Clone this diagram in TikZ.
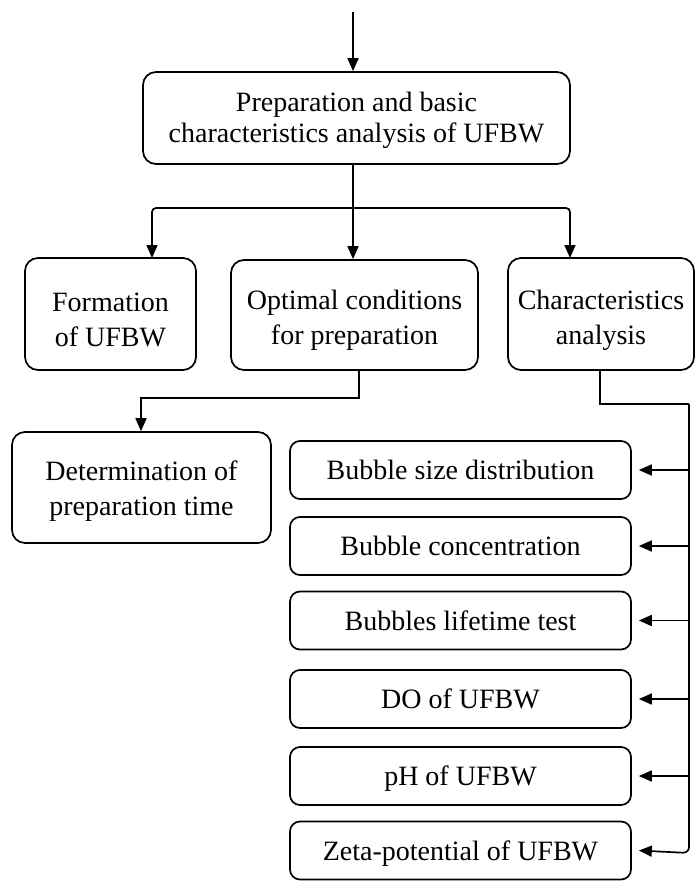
\documentclass[tikz,border=0pt]{standalone}
\usepackage{fontspec}
\setmainfont{Liberation Serif}
\usetikzlibrary{arrows.meta}
\newcommand\myup[1]{\rule{0pt}{#1}}
\begin{document}
\begin{tikzpicture}[x=1pt,y=-1pt,
  box/.style={draw,line width=1.7pt,rounded corners=13pt,inner sep=0pt,align=center,
     font=\fontsize{28}{31}\selectfont},
  tall/.style={box,font=\fontsize{28}{35}\selectfont},
  small/.style={box,minimum width=341pt,minimum height=58pt,rounded corners=10pt,
     text height=19pt,text depth=0pt},
  conn/.style={line width=1.7pt,-{Triangle[length=13pt,width=11pt]}},
  side/.style={conn,shorten >=7pt}]
\useasboundingbox (0,0) rectangle (696,884);
\node[box,minimum width=427pt,minimum height=92pt] (top) at (356.5,118) {\myup{25pt}Preparation and basic\\characteristics analysis of UFBW};
\node[tall,minimum width=171pt,minimum height=112pt] (form) at (110.5,314) {\myup{30pt}Formation\\of UFBW};
\node[tall,minimum width=247pt,minimum height=110pt] (opt) at (354.5,315) {\myup{30pt}Optimal conditions\\for preparation};
\node[tall,minimum width=186pt,minimum height=112pt] (char) at (601,314) {\myup{32pt}Characteristics\\analysis};
\node[tall,minimum width=259pt,minimum height=111pt] (det) at (141.5,487.5) {\myup{26pt}Determination of\\preparation time};
\node[small] (s1) at (460.5,470) {Bubble size distribution};
\node[small] (s2) at (460.5,546) {Bubble concentration};
\node[small] (s3) at (460.5,620.5) {Bubbles lifetime test};
\node[small] (s4) at (460.5,699) {DO of UFBW};
\node[small] (s5) at (460.5,776) {pH of UFBW};
\node[small] (s6) at (460.5,850.5) {Zeta-potential of UFBW};
\coordinate (in) at (353,12);
\coordinate (bus) at (353,208);
\coordinate (vtop) at (689,404);
\draw[conn] (in) -- (in |- top.north);
\draw[line width=1.7pt] (top.south -| bus) -- (bus);
\draw[conn,rounded corners=4pt] (bus) -- (152,208) -- (152,258);
\draw[conn] (bus) -- (bus |- opt.north);
\draw[conn,rounded corners=4pt] (bus) -- (570,208) -- (570,258);
\draw[conn] (359,370) -- (359,398) -- (141,398) -- (det.north -| 141,0);
\draw[line width=1.7pt] (char.south -| 600,0) -- (600,404) -- (vtop);
\draw[conn,rounded corners=6pt] (vtop) -- (689,853) -- ([xshift=7pt]s6.east);
\foreach \n in {s1,s2,s3,s4,s5}{
  \draw[side] (vtop |- \n.east) -- (\n.east);
}
\end{tikzpicture}
\end{document}
